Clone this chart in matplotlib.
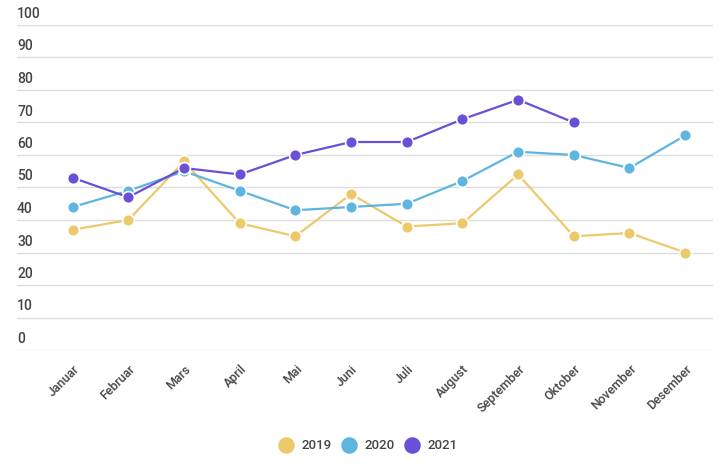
import matplotlib.pyplot as plt
from matplotlib.transforms import blended_transform_factory, offset_copy

months = ["Januar", "Februar", "Mars", "April", "Mai", "Juni", "Juli",
          "August", "September", "Oktober", "November", "Desember"]
v2019 = [37, 40, 58, 39, 35, 48, 38, 39, 54, 35, 36, 30]
v2020 = [44, 49, 55, 49, 43, 44, 45, 52, 61, 60, 56, 66]
v2021 = [53, 47, 56, 54, 60, 64, 64, 71, 77, 70]
yticks = [0, 10, 20, 30, 40, 50, 60, 70, 80, 90, 100]

series = [("2019", v2019, "#ecc96b"), ("2020", v2020, "#5db5e0"), ("2021", v2021, "#6a4fd8")]

plt.rcParams["font.family"] = ["Roboto", "DejaVu Sans"]

fig = plt.figure(figsize=(7.24, 4.70), dpi=100)
ax = fig.add_axes([17 / 724, 120 / 470, 696 / 724, 325 / 470])

for i, (name, vals, col) in enumerate(series):
    ax.plot(range(len(vals)), vals, color=col, lw=1.6, marker="o", ms=8.5,
            mec="white", mew=1.2, zorder=3 + i, label=name, clip_on=False)

ax.set_xlim(-1.0, 11.5)
ax.set_ylim(0, 100)
ax.set_yticks(yticks)
ax.set_yticklabels([])
ax.tick_params(axis="y", length=0)
ax.grid(axis="y", color="#dddddd", lw=1)
ax.set_axisbelow(True)
for s in ax.spines.values():
    s.set_visible(False)

trans = offset_copy(blended_transform_factory(ax.transAxes, ax.transData),
                    fig=fig, x=0, y=4, units="dots")
for t in yticks:
    ax.text(0, t, str(t), transform=trans, ha="left", va="bottom",
            fontsize=10, color="#444444", fontweight="medium")

ax.set_xticks(range(len(months)))
ax.set_xticklabels(months, rotation=45, ha="right", va="top",
                   rotation_mode="anchor", fontsize=9, color="#444444",
                   fontweight="medium")
ax.tick_params(axis="x", length=0, pad=9)

leg = fig.legend(loc="lower center", bbox_to_anchor=(0.51, 0.012), ncol=3,
                 frameon=False, fontsize=9.5, handlelength=0.8, columnspacing=0.9,
                 handletextpad=0.8, markerscale=1.4)
for h in leg.legend_handles:
    h.set_linestyle("")
    h.set_markeredgewidth(0)
for txt in leg.get_texts():
    txt.set_color("#444444")
    txt.set_fontweight("medium")

fig.savefig("out.png", dpi=100)
